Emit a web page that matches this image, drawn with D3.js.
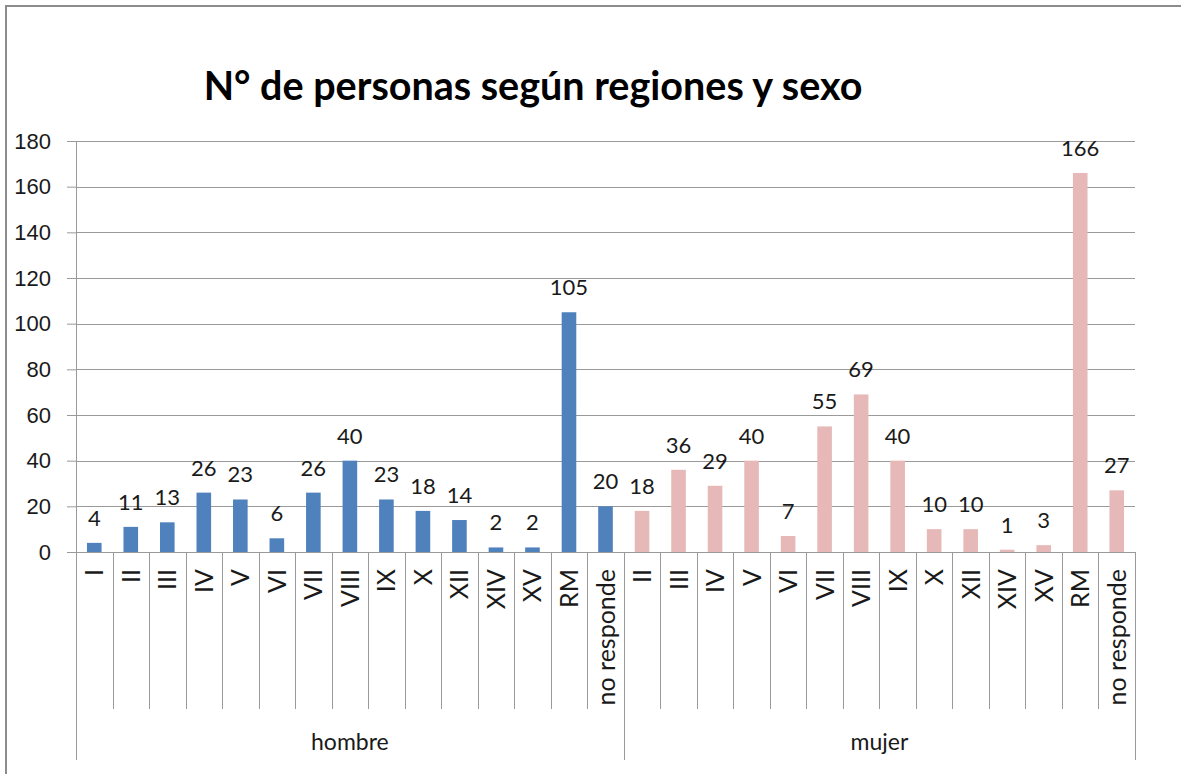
<!DOCTYPE html>
<html>
<head>
<meta charset="utf-8">
<script src="https://cdn.jsdelivr.net/npm/d3@7"></script>
<style>
  body { margin: 0; background: #fff; }
  svg { display: block; font-family: Lato, "Open Sans", sans-serif; }
</style>
</head>
<body>
<svg width="1181" height="774"></svg>
<script>
// data
var groups = ['hombre', 'mujer'];
var hombreRegions = ['I', 'II', 'III', 'IV', 'V', 'VI', 'VII', 'VIII', 'IX', 'X', 'XII', 'XIV', 'XV', 'RM', 'no responde'];
var hombreValues = [4, 11, 13, 26, 23, 6, 26, 40, 23, 18, 14, 2, 2, 105, 20];
var mujerRegions = ['II', 'III', 'IV', 'V', 'VI', 'VII', 'VIII', 'IX', 'X', 'XII', 'XIV', 'XV', 'RM', 'no responde'];
var mujerValues = [18, 36, 29, 40, 7, 55, 69, 40, 10, 10, 1, 3, 166, 27];
var yTicks = [0, 20, 40, 60, 80, 100, 120, 140, 160, 180];
var colors = { hombre: '#4f81bd', mujer: '#e6b9b8' };

var rows = [];
hombreRegions.forEach(function (r, i) {
  rows.push({ key: 'hombre|' + r, group: 'hombre', region: r, value: hombreValues[i] });
});
mujerRegions.forEach(function (r, i) {
  rows.push({ key: 'mujer|' + r, group: 'mujer', region: r, value: mujerValues[i] });
});

var svg = d3.select('svg');
var plotLeft = 76, plotRight = 1135, plotTop = 141, plotBottom = 552;
var sepBottom = 709, groupBottom = 760;
var lineColor = '#9a9a9a';

// outer frame
svg.append('rect')
  .attr('x', 6).attr('y', 6)
  .attr('width', 1230).attr('height', 820)
  .attr('fill', 'none')
  .attr('stroke', '#8c8c8c')
  .attr('stroke-width', 2);

var x = d3.scaleBand()
  .domain(rows.map(function (d) { return d.key; }))
  .range([plotLeft, plotRight])
  .padding(0);

var y = d3.scaleLinear()
  .domain([0, 180])
  .range([plotBottom, plotTop]);

// gridlines + y axis ticks
var yAxis = svg.append('g')
  .attr('transform', 'translate(' + plotLeft + ',0)')
  .call(d3.axisLeft(y).tickValues(yTicks).tickSize(9).tickPadding(16));
yAxis.select('.domain').remove();
yAxis.selectAll('.tick line').attr('stroke', lineColor);
yAxis.selectAll('.tick text')
  .attr('fill', '#1a1a1a')
  .style('font-size', '22px');

svg.append('g')
  .selectAll('line')
  .data(yTicks)
  .enter()
  .append('line')
  .attr('x1', plotLeft).attr('x2', plotRight)
  .attr('y1', function (d) { return Math.round(y(d)) + 0.5; })
  .attr('y2', function (d) { return Math.round(y(d)) + 0.5; })
  .attr('stroke', lineColor);

// y axis line, extends down past the labels
svg.append('line')
  .attr('x1', plotLeft + 0.5).attr('x2', plotLeft + 0.5)
  .attr('y1', plotTop).attr('y2', groupBottom)
  .attr('stroke', lineColor);

// separators between categories
var bw = x.bandwidth();
svg.append('g')
  .selectAll('line')
  .data(rows.slice(1))
  .enter()
  .append('line')
  .attr('x1', function (d) { return Math.round(x(d.key)) + 0.5; })
  .attr('x2', function (d) { return Math.round(x(d.key)) + 0.5; })
  .attr('y1', plotBottom)
  .attr('y2', function (d) { return d.key === 'mujer|' + mujerRegions[0] ? groupBottom : sepBottom; })
  .attr('stroke', lineColor);

svg.append('line')
  .attr('x1', plotRight + 0.5).attr('x2', plotRight + 0.5)
  .attr('y1', plotBottom).attr('y2', groupBottom)
  .attr('stroke', lineColor);

// bars
svg.append('g')
  .selectAll('rect')
  .data(rows)
  .enter()
  .append('rect')
  .attr('x', function (d) { return x(d.key) + bw * 0.3; })
  .attr('width', bw * 0.4)
  .attr('y', function (d) { return y(d.value); })
  .attr('height', function (d) { return y(0) - y(d.value); })
  .attr('fill', function (d) { return colors[d.group]; });

// value labels
svg.append('g')
  .selectAll('text')
  .data(rows)
  .enter()
  .append('text')
  .attr('x', function (d) { return x(d.key) + bw / 2; })
  .attr('y', function (d) { return y(d.value) - 17; })
  .attr('text-anchor', 'middle')
  .attr('fill', '#1a1a1a')
  .style('font-size', '22px')
  .text(function (d) { return d.value; });

// rotated category labels
svg.append('g')
  .selectAll('text')
  .data(rows)
  .enter()
  .append('text')
  .attr('transform', function (d) {
    return 'translate(' + (x(d.key) + bw / 2) + ',' + 569 + ') rotate(-90)';
  })
  .attr('dy', '0.36em')
  .attr('text-anchor', 'end')
  .attr('fill', '#1a1a1a')
  .style('font-size', '25px')
  .text(function (d) { return d.region; });

// group labels
svg.append('g')
  .selectAll('text')
  .data(groups)
  .enter()
  .append('text')
  .attr('x', function (g) {
    var ks = rows.filter(function (d) { return d.group === g; });
    return (x(ks[0].key) + x(ks[ks.length - 1].key) + bw) / 2;
  })
  .attr('y', 750)
  .attr('text-anchor', 'middle')
  .attr('fill', '#1a1a1a')
  .style('font-size', '23px')
  .text(function (g) { return g; });

// title
svg.append('text')
  .attr('x', 533)
  .attr('y', 100)
  .attr('text-anchor', 'middle')
  .attr('fill', '#000')
  .style('font-size', '39.5px')
  .style('font-weight', 'bold')
  .text('N° de personas según regiones y sexo');
</script>
</body>
</html>
